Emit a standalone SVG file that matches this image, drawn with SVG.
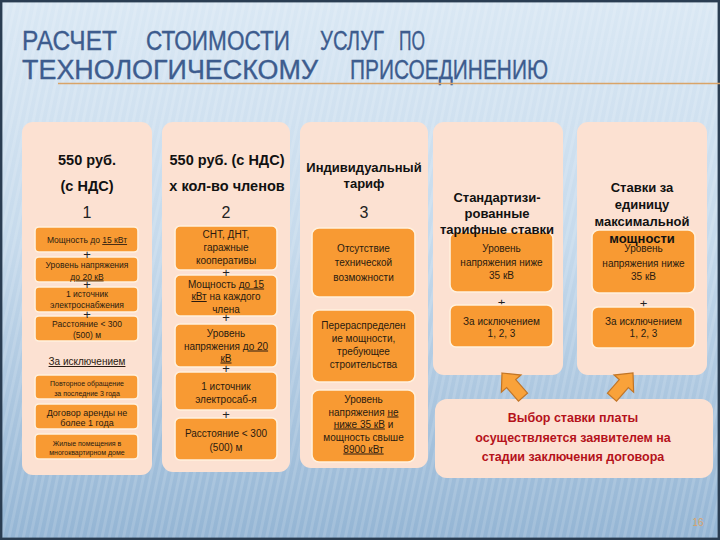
<svg xmlns="http://www.w3.org/2000/svg" width="720" height="540" viewBox="0 0 720 540">
<defs>
<linearGradient id="bg" x1="0" y1="0" x2="0" y2="1">
<stop offset="0" stop-color="#DAE8F4"/>
<stop offset="0.45" stop-color="#C6DAEC"/>
<stop offset="1" stop-color="#94B5D4"/>
</linearGradient>
<pattern id="stripes" width="7" height="7" patternUnits="userSpaceOnUse" patternTransform="rotate(12)">
<rect x="0" y="0" width="3" height="7" fill="#FFFFFF" opacity="0.13"/>
</pattern>
<style>
.col{fill:#FCE1D2;}
.box{fill:#F89A33;stroke:#FFF1DE;stroke-width:1.6;}
.hd{font-family:"Liberation Sans","DejaVu Sans",sans-serif;font-weight:bold;font-size:13px;fill:#111;text-anchor:middle;}
.hb{font-size:14.5px;}
.num{font-family:"Liberation Sans","DejaVu Sans",sans-serif;font-size:16px;fill:#222;text-anchor:middle;}
.t{font-family:"Liberation Sans","DejaVu Sans",sans-serif;font-size:10px;fill:#2A1A10;text-anchor:middle;}
.s8{font-size:8.5px;}
.s7{font-size:7px;}
.s9{font-size:9px;}
.pl{font-family:"Liberation Sans","DejaVu Sans",sans-serif;font-size:13px;fill:#222;text-anchor:middle;}
.u{text-decoration:underline;}
.ttl{font-family:"Liberation Sans Narrow","Liberation Sans",sans-serif;font-size:27px;fill:#3D5C8E;stroke:#3D5C8E;stroke-width:0.35;}
.red{font-family:"Liberation Sans","DejaVu Sans",sans-serif;font-weight:bold;font-size:12.5px;fill:#B5121B;text-anchor:middle;}
.arr{fill:#F9A23A;stroke:#C27526;stroke-width:1.2;}
</style>
</defs>
<rect x="0" y="0" width="720" height="540" fill="url(#bg)"/>
<rect x="0" y="0" width="720" height="540" fill="url(#stripes)"/>
<rect x="1.2" y="1.2" width="717.6" height="537.6" fill="none" stroke="#2A3D52" stroke-width="2.4"/>

<g id="title">
<text class="ttl" x="22" y="50" textLength="95" lengthAdjust="spacingAndGlyphs">РАСЧЕТ</text>
<text class="ttl" x="146" y="50" textLength="144" lengthAdjust="spacingAndGlyphs">СТОИМОСТИ</text>
<text class="ttl" x="320" y="50" textLength="64" lengthAdjust="spacingAndGlyphs">УСЛУГ</text>
<text class="ttl" x="399" y="50" textLength="26" lengthAdjust="spacingAndGlyphs">ПО</text>
<text class="ttl" x="22" y="78.5" textLength="296" lengthAdjust="spacingAndGlyphs">ТЕХНОЛОГИЧЕСКОМУ</text>
<text class="ttl" x="350" y="78.5" textLength="198" lengthAdjust="spacingAndGlyphs">ПРИСОЕДИНЕНИЮ</text>
<line x1="58" y1="83.5" x2="720" y2="83.5" stroke="#D9A468" stroke-width="1.5"/>
</g>

<g id="col1">
<rect class="col" x="22" y="122" width="130" height="353" rx="11"/>
<text class="hd hb" x="87" y="165">550 руб.</text>
<text class="hd hb" x="87" y="191">(с НДС)</text>
<text class="num" x="87" y="218">1</text>
<rect class="box" x="35" y="227" width="103" height="25" rx="4"/>
<text class="t s8" x="87" y="243">Мощность до <tspan class="u">15 кВт</tspan></text>
<rect class="box" x="35" y="257" width="103" height="25" rx="4"/>
<text class="t s8" x="87" y="268">Уровень напряжения</text>
<text class="t s8 u" x="87" y="279.5">до 20 кВ</text>
<rect class="box" x="35" y="287" width="103" height="25" rx="4"/>
<text class="t s8" x="87" y="297">1 источник</text>
<text class="t s8" x="87" y="308">электроснабжения</text>
<rect class="box" x="35" y="316" width="103" height="25" rx="4"/>
<text class="t s8" x="87" y="327">Расстояние &lt; 300</text>
<text class="t s8" x="87" y="338">(500) м</text>
<text class="pl" x="87" y="259">+</text>
<text class="pl" x="87" y="289">+</text>
<text class="pl" x="87" y="319">+</text>
<text class="t u" x="87" y="365">За исключением</text>
<rect class="box" x="35" y="375" width="103" height="24" rx="4"/>
<text class="t s7" x="87" y="386">Повторное обращение</text>
<text class="t s7" x="87" y="395.5">за последние 3 года</text>
<rect class="box" x="35" y="404" width="103" height="25" rx="4"/>
<text class="t s9" x="87" y="415.5">Договор аренды не</text>
<text class="t s9" x="87" y="425.5">более 1 года</text>
<rect class="box" x="35" y="434" width="103" height="25" rx="4"/>
<text class="t s7" x="87" y="445.5">Жилые помещения в</text>
<text class="t s7" x="87" y="455">многоквартирном доме</text>
</g>

<g id="col2">
<rect class="col" x="162" y="122" width="128" height="350" rx="11"/>
<text class="hd hb" x="227" y="165">550 руб. (с НДС)</text>
<text class="hd hb" x="227" y="191">х кол-во членов</text>
<text class="num" x="226" y="218">2</text>
<rect class="box" x="175" y="226" width="102" height="44" rx="5"/>
<text class="t" x="226" y="238">СНТ, ДНТ,</text>
<text class="t" x="226" y="251">гаражные</text>
<text class="t" x="226" y="264">кооперативы</text>
<rect class="box" x="175" y="275" width="102" height="41" rx="5"/>
<text class="t" x="226" y="287.5">Мощность <tspan class="u">до 15</tspan></text>
<text class="t" x="226" y="300"><tspan class="u">кВт</tspan> на каждого</text>
<text class="t" x="226" y="312.5">члена</text>
<rect class="box" x="175" y="324" width="102" height="43" rx="5"/>
<text class="t" x="226" y="336.5">Уровень</text>
<text class="t" x="226" y="349.5">напряжения <tspan class="u">до 20</tspan></text>
<text class="t u" x="226" y="361.5">кВ</text>
<rect class="box" x="175" y="372" width="102" height="38" rx="5"/>
<text class="t" x="226" y="389.5">1 источник</text>
<text class="t" x="226" y="402.5">электросаб-я</text>
<rect class="box" x="175" y="418" width="102" height="42" rx="5"/>
<text class="t" x="226" y="436.5">Расстояние &lt; 300</text>
<text class="t" x="226" y="450.5">(500) м</text>
<text class="pl" x="226" y="277">+</text>
<text class="pl" x="226" y="322">+</text>
<text class="pl" x="226" y="373">+</text>
<text class="pl" x="226" y="419">+</text>
</g>

<g id="col3">
<rect class="col" x="300" y="122" width="128" height="346" rx="11"/>
<text class="hd" x="364" y="172">Индивидуальный</text>
<text class="hd" x="364" y="188">тариф</text>
<text class="num" x="364" y="218">3</text>
<rect class="box" x="312" y="228" width="103" height="69" rx="7"/>
<text class="t" x="363.5" y="251.5">Отсутствие</text>
<text class="t" x="363.5" y="266">технической</text>
<text class="t" x="363.5" y="280.5">возможности</text>
<rect class="box" x="312" y="310" width="103" height="72" rx="7"/>
<text class="t" x="363.5" y="328.5">Перераспределен</text>
<text class="t" x="363.5" y="342">ие мощности,</text>
<text class="t" x="363.5" y="355">требующее</text>
<text class="t" x="363.5" y="367.5">строительства</text>
<rect class="box" x="312" y="390" width="103" height="72" rx="7"/>
<text class="t" x="363.5" y="402.5">Уровень</text>
<text class="t" x="363.5" y="415.5">напряжения <tspan class="u">не</tspan></text>
<text class="t" x="363.5" y="427.5"><tspan class="u">ниже 35 кВ</tspan> и</text>
<text class="t" x="363.5" y="440.5">мощность свыше</text>
<text class="t u" x="363.5" y="452.5">8900 кВт</text>
</g>

<g id="col4">
<rect class="col" x="433" y="122" width="130" height="253" rx="11"/>
<rect class="box" x="450" y="232" width="103" height="60" rx="7"/>
<text class="t" x="501.5" y="251.5">Уровень</text>
<text class="t" x="501.5" y="265.5">напряжения ниже</text>
<text class="t" x="501.5" y="278.5">35 кВ</text>
<text class="pl" x="501.5" y="306.5">+</text>
<rect class="box" x="450" y="305" width="103" height="42" rx="6"/>
<text class="t" x="501.5" y="325">За исключением</text>
<text class="t" x="501.5" y="336.5">1, 2, 3</text>
<text class="hd" x="497" y="201.5">Стандартизи-</text>
<text class="hd" x="497" y="218">рованные</text>
<text class="hd" x="497" y="234">тарифные ставки</text>
</g>

<g id="col5">
<rect class="col" x="577" y="122" width="130" height="253" rx="11"/>
<rect class="box" x="592" y="230" width="103" height="63" rx="7"/>
<text class="t" x="643.5" y="251.5">Уровень</text>
<text class="t" x="643.5" y="266.5">напряжения ниже</text>
<text class="t" x="643.5" y="279.5">35 кВ</text>
<text class="pl" x="643.5" y="307.5">+</text>
<rect class="box" x="592" y="307" width="103" height="41" rx="6"/>
<text class="t" x="643.5" y="325">За исключением</text>
<text class="t" x="643.5" y="336.5">1, 2, 3</text>
<text class="hd" x="642" y="191.5">Ставки за</text>
<text class="hd" x="642" y="208.5">единицу</text>
<text class="hd" x="642" y="226">максимальной</text>
<text class="hd" x="642" y="242.5">мощности</text>
</g>

<g id="note">
<rect class="col" x="435" y="399" width="278" height="79" rx="12"/>
<text class="red" x="573" y="422">Выбор ставки платы</text>
<text class="red" x="573" y="442">осуществляется заявителем на</text>
<text class="red" x="573" y="461">стадии заключения договора</text>
</g>

<g id="connectors">
<path class="arr" transform="translate(502,373) rotate(-41)" d="M0,0 L13,14 L6,14 L6,32 L-6,32 L-6,14 L-13,14 Z"/>
<path class="arr" transform="translate(633,373) rotate(41)" d="M0,0 L13,14 L6,14 L6,32 L-6,32 L-6,14 L-13,14 Z"/>
</g>

<text x="698" y="526" font-family="Liberation Sans, sans-serif" font-size="10" fill="#D9A468" text-anchor="middle">16</text>
</svg>
